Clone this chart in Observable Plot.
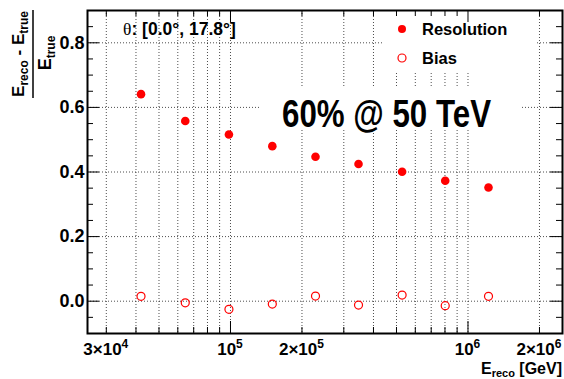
<!DOCTYPE html>
<html><head><meta charset="utf-8">
<script src="https://cdn.jsdelivr.net/npm/d3@7"></script>
<script src="https://cdn.jsdelivr.net/npm/@observablehq/plot@0.6"></script>
<style>body{margin:0;background:#fff}#chart{width:564px;height:379px}</style>
</head><body><div id="chart"></div>
<script>
// ---- data ----
const energy = [42000, 64500, 98500, 150000, 228000, 346000, 528000, 802000, 1220000];
const resolution = [0.641, 0.558, 0.516, 0.480, 0.447, 0.425, 0.401, 0.373, 0.352];
const bias = [0.015, -0.005, -0.025, -0.009, 0.016, -0.012, 0.019, -0.014, 0.015];

// axis ticks / labels
const xGrid = [3e4,4e4,5e4,6e4,7e4,8e4,9e4,1e5,2e5,3e5,4e5,5e5,6e5,7e5,8e5,9e5,1e6,2e6];
const xMajor = [1e5, 1e6];
const xMinor = xGrid.filter(v => !xMajor.includes(v));
const xLabelValues = [3e4, 1e5, 2e5, 1e6, 2e6];
const xLabelMantissa = ["3×10", "10", "2×10", "10", "2×10"];
const xLabelExponent = ["4", "5", "5", "6", "6"];
const yMajor = [0, 0.2, 0.4, 0.6, 0.8];
const yMinor = [-0.05, 0.05, 0.1, 0.15, 0.25, 0.3, 0.35, 0.45, 0.5, 0.55, 0.65, 0.7, 0.75, 0.85];
const yLabelTexts = ["0.0", "0.2", "0.4", "0.6", "0.8"];

const table = energy.map((e, i) => ({e, res: resolution[i], bias: bias[i]}));
const yLabels = yMajor.map((v, i) => ({v, t: yLabelTexts[i]}));

const W = 564, H = 379, mL = 87, mR = 2, mT = 10, mB = 46;
const fw = W - mL - mR, fh = H - mT - mB;
const sans = "'Liberation Sans', Arial, Helvetica, sans-serif";
const gridStyle = {stroke: "#000", strokeOpacity: 0.7, strokeDasharray: "1,2", strokeWidth: 1};
const MAJ = 12, MIN = 6;
const NS = "http://www.w3.org/2000/svg";

// white boxes behind legend and annotation (over the grid, under ticks)
function whiteBoxes() {
  const g = document.createElementNS(NS, "g");
  [[383, 11, 154, 62], [260, 88, 262, 40]].forEach(([x, y, w, h]) => {
    const r = document.createElementNS(NS, "rect");
    r.setAttribute("x", x); r.setAttribute("y", y);
    r.setAttribute("width", w); r.setAttribute("height", h);
    r.setAttribute("fill", "white");
    g.appendChild(r);
  });
  return g;
}

// x tick labels with superscript exponents, placed with the x scale
function xTickLabels(index, scales) {
  const g = d3.create("svg:g");
  xLabelValues.forEach((v, i) => {
    const t = g.append("text").attr("x", scales.x(v)).attr("y", 355)
      .attr("text-anchor", "middle").attr("fill", "#000")
      .style("font-family", sans).style("font-weight", "bold").style("font-size", "17px");
    t.append("tspan").text(xLabelMantissa[i]);
    t.append("tspan").style("font-size", "12px").attr("dy", -7).text(xLabelExponent[i]);
  });
  return g.node();
}

const plot = Plot.plot({
  width: W, height: H,
  marginLeft: mL, marginRight: mR, marginTop: mT, marginBottom: mB,
  x: {type: "log", domain: [2.5e4, 2.5e6], axis: null},
  y: {domain: [-0.1, 0.9], axis: null},
  style: {fontFamily: sans, background: "white", overflow: "visible"},
  marks: [
    Plot.ruleX(xGrid, {x: d => d, ...gridStyle}),
    Plot.ruleY(yMajor, {y: d => d, ...gridStyle}),
    whiteBoxes,
    // y ticks left / right
    Plot.tickY(yMajor, {y: d => d, insetRight: fw - MAJ, stroke: "#000"}),
    Plot.tickY(yMinor, {y: d => d, insetRight: fw - MIN, stroke: "#000"}),
    Plot.tickY(yMajor, {y: d => d, insetLeft: fw - MAJ, stroke: "#000"}),
    Plot.tickY(yMinor, {y: d => d, insetLeft: fw - MIN, stroke: "#000"}),
    // x ticks bottom / top
    Plot.tickX(xMajor, {x: d => d, insetTop: fh - MAJ, stroke: "#000"}),
    Plot.tickX(xMinor, {x: d => d, insetTop: fh - MIN, stroke: "#000"}),
    Plot.tickX(xMajor, {x: d => d, insetBottom: fh - MAJ, stroke: "#000"}),
    Plot.tickX(xMinor, {x: d => d, insetBottom: fh - MIN, stroke: "#000"}),
    Plot.frame({stroke: "#000", strokeWidth: 2}),
    // tick labels
    Plot.text(yLabels, {y: "v", text: "t", frameAnchor: "left", dx: -3, textAnchor: "end",
      fontSize: 18, fontWeight: "bold", fill: "#000"}),
    xTickLabels,
    // data
    Plot.dot(table, {x: "e", y: "res", r: 4.3, fill: "#ff0000", stroke: "none"}),
    Plot.dot(table, {x: "e", y: "bias", r: 4, fill: "none", stroke: "#ff0000", strokeWidth: 1.2})
  ]
});
document.getElementById("chart").appendChild(plot);

const svg = d3.select(plot);

// y axis title: (E_reco - E_true) / E_true
const num = svg.append("text").attr("transform", "translate(24,54) rotate(-90)")
  .attr("text-anchor", "middle").attr("font-weight", "bold").attr("font-size", 17).attr("font-family", sans);
num.append("tspan").text("E");
num.append("tspan").attr("font-size", 12).attr("dy", 4).text("reco");
num.append("tspan").attr("dy", -4).text(" - E");
num.append("tspan").attr("font-size", 12).attr("dy", 4).text("true");
svg.append("line").attr("x1", 33).attr("x2", 33).attr("y1", 10).attr("y2", 98)
  .attr("stroke", "#000").attr("stroke-width", 1.5);
const den = svg.append("text").attr("transform", "translate(51,53) rotate(-90)")
  .attr("text-anchor", "middle").attr("font-weight", "bold").attr("font-size", 18).attr("font-family", sans);
den.append("tspan").text("E");
den.append("tspan").attr("font-size", 12).attr("dy", 4).text("true");

// x axis title
const xt = svg.append("text").attr("x", 562).attr("y", 374).attr("text-anchor", "end")
  .attr("font-weight", "bold").attr("font-size", 16).attr("font-family", sans);
xt.append("tspan").text("E");
xt.append("tspan").attr("font-size", 11).attr("dy", 3).text("reco");
xt.append("tspan").attr("dy", -3).text(" [GeV]");

// theta label
const th = svg.append("text").attr("x", 123).attr("y", 35).attr("text-anchor", "start")
  .attr("font-size", 17.5).attr("font-family", sans);
th.append("tspan").attr("font-family", "'Liberation Serif', 'DejaVu Serif', serif").text("θ");
th.append("tspan").attr("font-weight", "bold").text(": [0.0°, 17.8°]");

// legend
svg.append("circle").attr("cx", 402).attr("cy", 29).attr("r", 4).attr("fill", "#ff0000");
svg.append("text").attr("x", 422).attr("y", 35).attr("text-anchor", "start").attr("font-size", 16.5)
  .attr("font-weight", "bold").attr("font-family", sans).text("Resolution");
svg.append("circle").attr("cx", 402).attr("cy", 58).attr("r", 4).attr("fill", "none")
  .attr("stroke", "#ff0000").attr("stroke-width", 1.2);
svg.append("text").attr("x", 422).attr("y", 64).attr("text-anchor", "start").attr("font-size", 16.5)
  .attr("font-weight", "bold").attr("font-family", sans).text("Bias");

// annotation
svg.append("text").attr("x", 282).attr("y", 127).attr("text-anchor", "start").attr("font-size", 39)
  .attr("font-weight", "bold").attr("font-family", sans)
  .attr("textLength", 209).attr("lengthAdjust", "spacingAndGlyphs")
  .text("60% @ 50 TeV");
</script>
</body></html>
